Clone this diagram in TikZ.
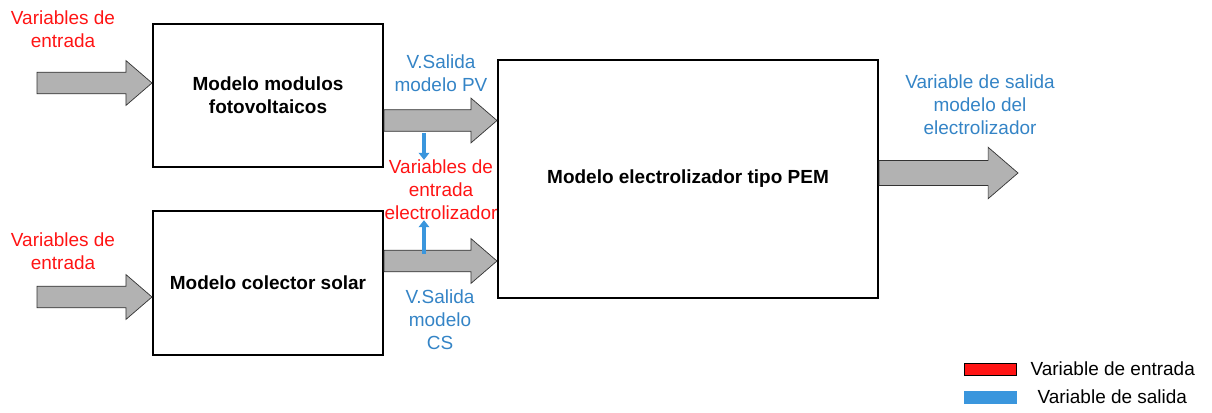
\documentclass[tikz,border=0pt]{standalone}
\usepackage{fontspec}
\setmainfont{Liberation Sans}
\usepackage{tikz}
\usetikzlibrary{positioning,calc,arrows.meta}

\definecolor{inred}{RGB}{255,20,20}
\definecolor{outtxt}{RGB}{52,132,198}
\definecolor{outbar}{RGB}{58,150,221}
\definecolor{arrgray}{RGB}{178,178,178}

% gray block arrow, horizontal, from #2 to the x of #3
\newcommand{\fatarrow}[3][1]{%
  \draw[fat] let \p1=(#2), \p2=(#3) in
    (\x1,\y1-#1*0.27cm) -- (\x2-#1*0.65cm,\y1-#1*0.27cm)
    -- (\x2-#1*0.65cm,\y1-#1*0.56cm) -- (\x2,\y1)
    -- (\x2-#1*0.65cm,\y1+#1*0.56cm) -- (\x2-#1*0.65cm,\y1+#1*0.27cm)
    -- (\x1,\y1+#1*0.27cm) -- cycle;}

\begin{document}
\begin{tikzpicture}[
    x=0.025cm, y=-0.025cm,
    txt/.style={font=\fontsize{13.5}{16.3}\selectfont, align=center, inner sep=0pt},
    model/.style={draw, line width=1.4pt, align=center, inner sep=0pt,
      font=\fontsize{13.5}{16.3}\selectfont\bfseries},
    fat/.style={draw=black!80, line width=0.5pt, fill=arrgray},
    outarr/.style={draw=outbar, line width=2.6pt, -{Triangle[width=7.5pt,length=5pt]}},
    key/.style={draw, minimum width=1.3cm, minimum height=0.3cm, inner sep=0pt}
  ]
  \useasboundingbox (0,0) rectangle (1212,413);

  % Model blocks
  \node[model, minimum width=5.75cm, minimum height=3.58cm] (pv)  at (268,95.5) {Modelo modulos\\fotovoltaicos};
  \node[model, minimum width=5.75cm, minimum height=3.6cm]  (cs)  at (268,283)  {Modelo colector solar};
  \node[model, minimum width=9.5cm,  minimum height=5.95cm] (pem) at (688,179)  {Modelo electrolizador tipo PEM};

  % Labels
  \node[txt, text=inred]  (in1lbl) at (63,29.5)  {Variables de\\entrada};
  \node[txt, text=inred]  (in2lbl) at (63,251)   {Variables de\\entrada};
  \node[txt, text=outtxt] (pvlbl)  at (441,73)   {V.Salida\\modelo PV};
  \node[txt, text=inred]  (vin)    at (441,190)  {Variables de\\entrada\\electrolizador};
  \node[txt, text=outtxt] (cslbl)  at (440,319.5) {V.Salida\\modelo\\CS};
  \node[txt, text=outtxt] (outlbl) at (980,105)  {Variable de salida\\modelo del\\electrolizador};

  % Free ends
  \coordinate (in1) at (37,83);
  \coordinate (in2) at (37,297);
  \coordinate (out) at (1018,173);
  \coordinate (pvtap) at (424,133);
  \coordinate (cstap) at (424,254);

  % Block arrows
  \fatarrow{in1}{pv.west}
  \fatarrow{in2}{cs.west}
  \fatarrow{$(pv.east)+(0,25)$}{pem.west}
  \fatarrow{$(cs.east)+(0,-22)$}{pem.west}
  \fatarrow[1.15]{pem.east |- out}{out}

  % Output-to-input markers
  \draw[outarr] (pvtap) -- (pvtap |- vin.north);
  \draw[outarr] (cstap) -- (cstap |- vin.south);

  % Legend
  \node[key, fill=inred] (kin) at (990,369) {};
  \node[key, draw=outbar, fill=outbar] (kout) at (990,397) {};
  \node[txt, anchor=west] at ($(kin.east)+(14,0)$) {Variable de entrada};
  \node[txt, anchor=west] at ($(kout.east)+(21,0)$) {Variable de salida};
\end{tikzpicture}
\end{document}
